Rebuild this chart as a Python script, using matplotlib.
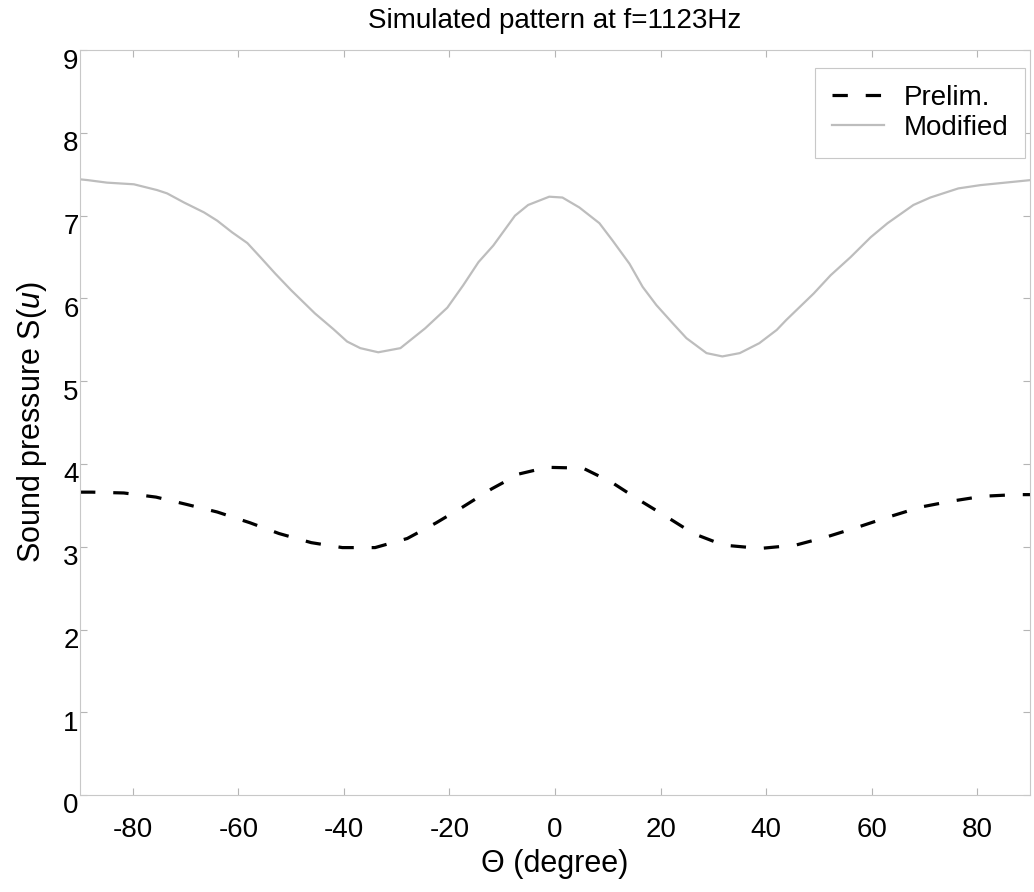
import matplotlib
matplotlib.use('Agg')
import matplotlib.pyplot as plt
from matplotlib.transforms import ScaledTranslation

plt.rcParams['font.family'] = ['Liberation Sans', 'DejaVu Sans']
plt.rcParams['mathtext.fontset'] = 'custom'
plt.rcParams['mathtext.rm'] = 'Liberation Sans'
plt.rcParams['mathtext.it'] = 'Liberation Sans:italic'
plt.rcParams['axes.unicode_minus'] = False

# values
theta_mod = [-90, -88.5, -84.9, -79.8, -75.4, -73.5, -70.3, -66.5, -64, -61.2, -58.3,
             -55.7, -53, -50, -45.5, -42, -39.4, -36.9, -33.5, -29.3, -24.6, -20.4,
             -17.4, -14.5, -11.7, -7.6, -5.1, -1.1, 1.4, 4.6, 8.4, 10.9, 14.1,
             16.6, 19.2, 22.3, 24.9, 28.7, 31.7, 35.0, 38.7, 42.0, 43.8, 49,
             52.2, 56, 59.8, 63, 67.9, 71.1, 76.4, 80.6, 90]
s_mod = [7.44, 7.43, 7.40, 7.38, 7.31, 7.27, 7.16, 7.04, 6.94, 6.80, 6.67,
         6.49, 6.30, 6.10, 5.82, 5.63, 5.48, 5.40, 5.35, 5.40, 5.64, 5.89,
         6.16, 6.44, 6.64, 7.00, 7.13, 7.23, 7.22, 7.10, 6.91, 6.70, 6.42,
         6.14, 5.92, 5.70, 5.52, 5.34, 5.30, 5.34, 5.46, 5.62, 5.74, 6.06,
         6.28, 6.50, 6.74, 6.91, 7.13, 7.22, 7.33, 7.37, 7.43]

theta_pre = [-90, -87.7, -81.7, -75.6, -69.7, -64, -57.8, -52.3, -46.2, -40.3, -34.1,
             -28, -22.5, -17.5, -12, -6.8, -1.5, 5.3, 10.7, 15.8, 21.2, 26.2,
             31.9, 38.9, 45.6, 51.5, 57.5, 63.2, 69.3, 75, 81, 87.3, 90]
s_pre = [3.66, 3.66, 3.65, 3.60, 3.51, 3.42, 3.29, 3.16, 3.05, 2.99, 2.99,
         3.10, 3.29, 3.48, 3.70, 3.88, 3.96, 3.95, 3.78, 3.57, 3.36, 3.16,
         3.02, 2.98, 3.02, 3.12, 3.24, 3.36, 3.48, 3.55, 3.61, 3.63, 3.63]

xticks = [-80, -60, -40, -20, 0, 20, 40, 60, 80]
yticks = list(range(10))

fig = plt.figure(figsize=(10.34, 8.92), dpi=100)
ax = fig.add_axes([0.0774, 0.1087, 0.9188, 0.835])

ax.plot(theta_pre, s_pre, color='black', lw=2.3, ls=(0, (4.8, 5.6)), label='Prelim.')
ax.plot(theta_mod, s_mod, color='#bdbdbd', lw=1.6, label='Modified')

ax.set_xlim(-90, 90)
ax.set_ylim(0, 9)
ax.set_xticks(xticks)
ax.set_yticks(yticks)
ax.tick_params(direction='in', length=5, color='#b5b5b5', labelsize=20,
               top=True, right=True)
ax.tick_params(axis='x', pad=16)
ax.tick_params(axis='y', pad=1)
# scanned MATLAB figure: y tick labels sit a little below their ticks
for lbl in ax.get_yticklabels():
    lbl.set_transform(lbl.get_transform() + ScaledTranslation(0, -6/72, fig.dpi_scale_trans))
for sp in ax.spines.values():
    sp.set_color('#c8c8c8')
    sp.set_linewidth(0.8)

ax.set_title('Simulated pattern at f=1123Hz', fontsize=20, pad=16)
ax.set_xlabel('\u0398 (degree)', fontsize=22, labelpad=4)
ax.set_ylabel('Sound pressure S($\\mathit{u}$)', fontsize=22, labelpad=10)

leg = ax.legend(loc='upper right', bbox_to_anchor=(0.995, 0.976), fontsize=20,
                handlelength=1.9, handletextpad=0.7, labelspacing=0.15,
                borderpad=0.6, borderaxespad=0, fancybox=False, framealpha=1)
leg.get_frame().set_edgecolor('#c8c8c8')
leg.get_frame().set_linewidth(0.8)

fig.savefig('out.png', dpi=100)
